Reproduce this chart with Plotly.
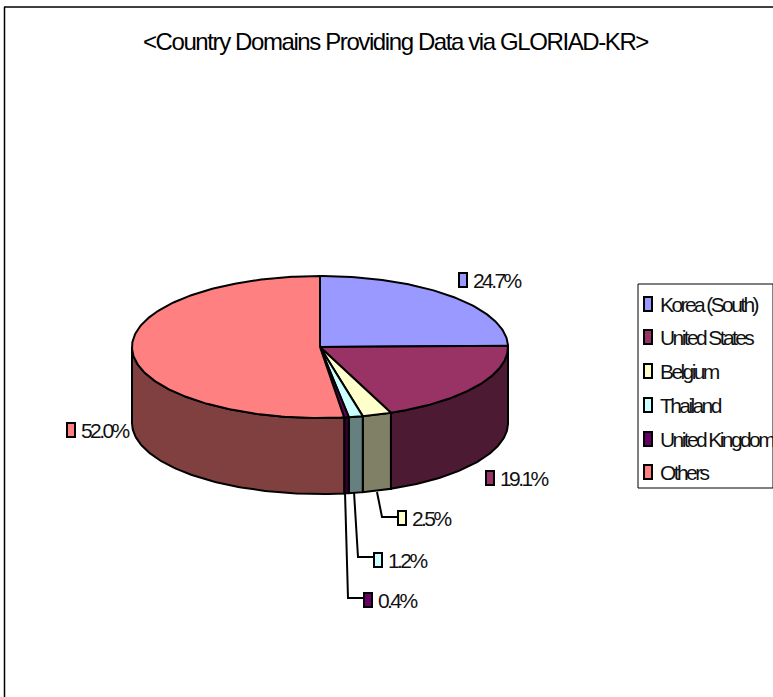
import numpy as np
import plotly.graph_objects as go

title = "&lt;Country Domains Providing Data via GLORIAD-KR&gt;"
categories = ["Korea (South)", "United States", "Belgium", "Thailand", "United Kingdom", "Others"]
values = [24.7, 19.1, 2.5, 1.2, 0.4, 52.0]
value_labels = ["24.7%", "19.1%", "2.5%", "1.2%", "0.4%", "52.0%"]
top_colors = ["#9999FF", "#993366", "#FFFFCC", "#CCFFFF", "#660066", "#FF8080"]
side_colors = ["#4D4D80", "#4D1A33", "#808066", "#668080", "#330033", "#804040"]

# Page geometry (pixels in the axis space)
CX, CY, RX, RY, DEPTH = 320, 347, 188, 71, 76
LINE = dict(color="#000000", width=2)
FONT = "Liberation Sans, Arial"
label_anchor = [(463, 280), (490, 478), (402, 518), (378, 560), (368, 600), (71, 430)]
leaders = [None, None,
           [(377, 492), (382, 517), (397, 517)],
           [(354, 492), (358, 557), (373, 557)],
           [(345, 492), (348, 598), (363, 598)],
           None]
legend_y = [304, 337, 371, 405, 439, 472]

fig = go.Figure()


def ell(t, dy=0.0):
    return CX + RX * np.sin(t), CY - RY * np.cos(t) + dy


def poly(x, y, color):
    fig.add_trace(go.Scatter(x=list(x), y=list(y), mode="lines", fill="toself",
                             fillcolor=color, line=LINE, showlegend=False, hoverinfo="skip"))


edges = np.cumsum([0] + values) / sum(values) * 2 * np.pi
# Side walls: only the front half of the rim is visible
for i in range(len(values)):
    a, b = max(edges[i], np.pi / 2), min(edges[i + 1], 3 * np.pi / 2)
    if b <= a:
        continue
    t = np.linspace(a, b, max(3, int((b - a) * 60)))
    xt, yt = ell(t)
    xb, yb = ell(t[::-1], DEPTH)
    poly(np.r_[xt, xb, xt[0]], np.r_[yt, yb, yt[0]], side_colors[i])
# Top faces
for i in range(len(values)):
    a, b = edges[i], edges[i + 1]
    t = np.linspace(a, b, max(3, int((b - a) * 60)))
    xt, yt = ell(t)
    poly(np.r_[CX, xt, CX], np.r_[CY, yt, CY], top_colors[i])

# Leader lines
for pts in leaders:
    if pts:
        fig.add_trace(go.Scatter(x=[p[0] for p in pts], y=[p[1] for p in pts], mode="lines",
                                 line=LINE, showlegend=False, hoverinfo="skip"))

shapes = [
    dict(type="line", x0=4.5, x1=4.5, y0=7, y1=697, line=dict(color="#000", width=1.5)),
    dict(type="line", x0=4, x1=773, y0=7, y1=7, line=dict(color="#000", width=1.5)),
    dict(type="rect", x0=638, x1=773, y0=284, y1=488, line=dict(color="#000", width=1)),
]
annotations = [dict(x=395, y=41, text=title, showarrow=False, xanchor="center", yanchor="middle",
                    font=dict(family=FONT, size=24, color="#000"))]


def swatch(x, y, color):
    shapes.append(dict(type="rect", x0=x, x1=x + 8, y0=y - 7, y1=y + 7, fillcolor=color,
                       line=dict(color="#000", width=2)))


def label(x, y, text):
    annotations.append(dict(x=x, y=y, text=text, showarrow=False, xanchor="left", yanchor="middle",
                            align="left", font=dict(family=FONT, size=21, color="#111")))


for i, (x, y) in enumerate(label_anchor):
    swatch(x - 4, y, top_colors[i])
    label(x + 8, y, value_labels[i])
for i, y in enumerate(legend_y):
    swatch(644, y, top_colors[i])
    label(658, y, categories[i])

fig.update_layout(
    width=773, height=697, margin=dict(l=0, r=0, t=0, b=0),
    paper_bgcolor="#FFFFFF", plot_bgcolor="#FFFFFF",
    xaxis=dict(range=[0, 773], visible=False, fixedrange=True),
    yaxis=dict(range=[697, 0], visible=False, fixedrange=True),
    shapes=shapes, annotations=annotations, showlegend=False,
)

# The reference's lettering is tightly squeezed; Plotly has no letter-spacing option.
squeeze = """
document.body.style.margin = '0';
document.querySelectorAll('.annotation-text').forEach(function (el, i) {
    el.style.letterSpacing = (i === 0 ? '-1.4px' : '-2.6px');
});
"""
fig.write_html("out.html", config=dict(displayModeBar=False), post_script=squeeze)
